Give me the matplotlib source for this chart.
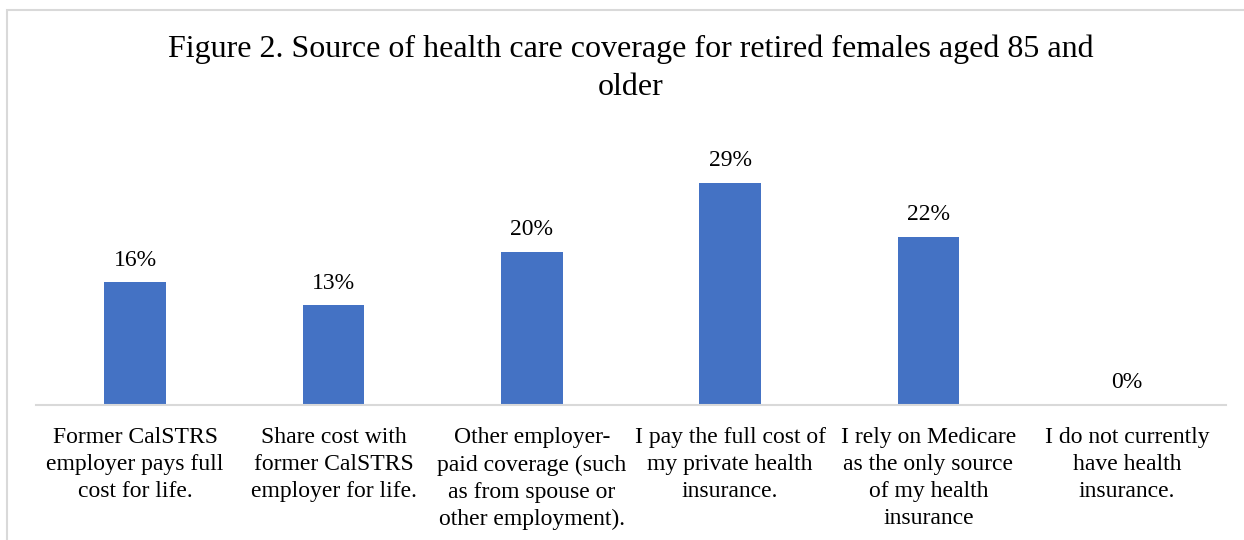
import matplotlib
matplotlib.use("Agg")
import matplotlib.pyplot as plt
from matplotlib.patches import Rectangle

categories = [
    "Former CalSTRS\nemployer pays full\ncost for life.",
    "Share cost with\nformer CalSTRS\nemployer for life.",
    "Other employer-\npaid coverage (such\nas from spouse or\nother employment).",
    "I pay the full cost of\nmy private health\ninsurance.",
    "I rely on Medicare\nas the only source\nof my health\ninsurance",
    "I do not currently\nhave health\ninsurance.",
]
values = [16, 13, 20, 29, 22, 0]
value_labels = ["16%", "13%", "20%", "29%", "22%", "0%"]
title = "Figure 2. Source of health care coverage for retired females aged 85 and\nolder"

plt.rcParams["font.family"] = ["Liberation Serif", "DejaVu Serif"]

W, H = 1244, 540
fig = plt.figure(figsize=(W / 100, H / 100), dpi=100)

# light frame around the chart area
fig.patches.append(Rectangle((7 / W, -0.1), 1.2, (H - 9.5) / H + 0.1,
                             transform=fig.transFigure, fill=False,
                             edgecolor="#D9D9D9", linewidth=1.5))

ax = fig.add_axes([36 / W, (H - 405) / H, 1190 / W, 265 / H])
x = list(range(len(values)))
bars = ax.bar(x, values, width=0.31, color="#4472C4")
ax.set_xlim(-0.5, len(values) - 0.5)
ax.set_ylim(0, 34.6)

for xi, v, lab in zip(x, values, value_labels):
    ax.annotate(lab, (xi, v), xytext=(0, 12), textcoords="offset points",
                ha="center", va="baseline", fontsize=17, color="#000000")

ax.set_xticks(x)
ax.set_xticklabels(categories, fontsize=17, linespacing=1.38)
ax.tick_params(axis="x", length=0, pad=16)
ax.set_yticks([])
for s in ["top", "right", "left"]:
    ax.spines[s].set_visible(False)
ax.spines["bottom"].set_color("#D9D9D9")
ax.spines["bottom"].set_linewidth(1.5)

fig.text(631 / W, 1 - 35 / H, title, ha="center", va="top", fontsize=23,
         linespacing=1.38)

fig.savefig("out.png", dpi=100)
